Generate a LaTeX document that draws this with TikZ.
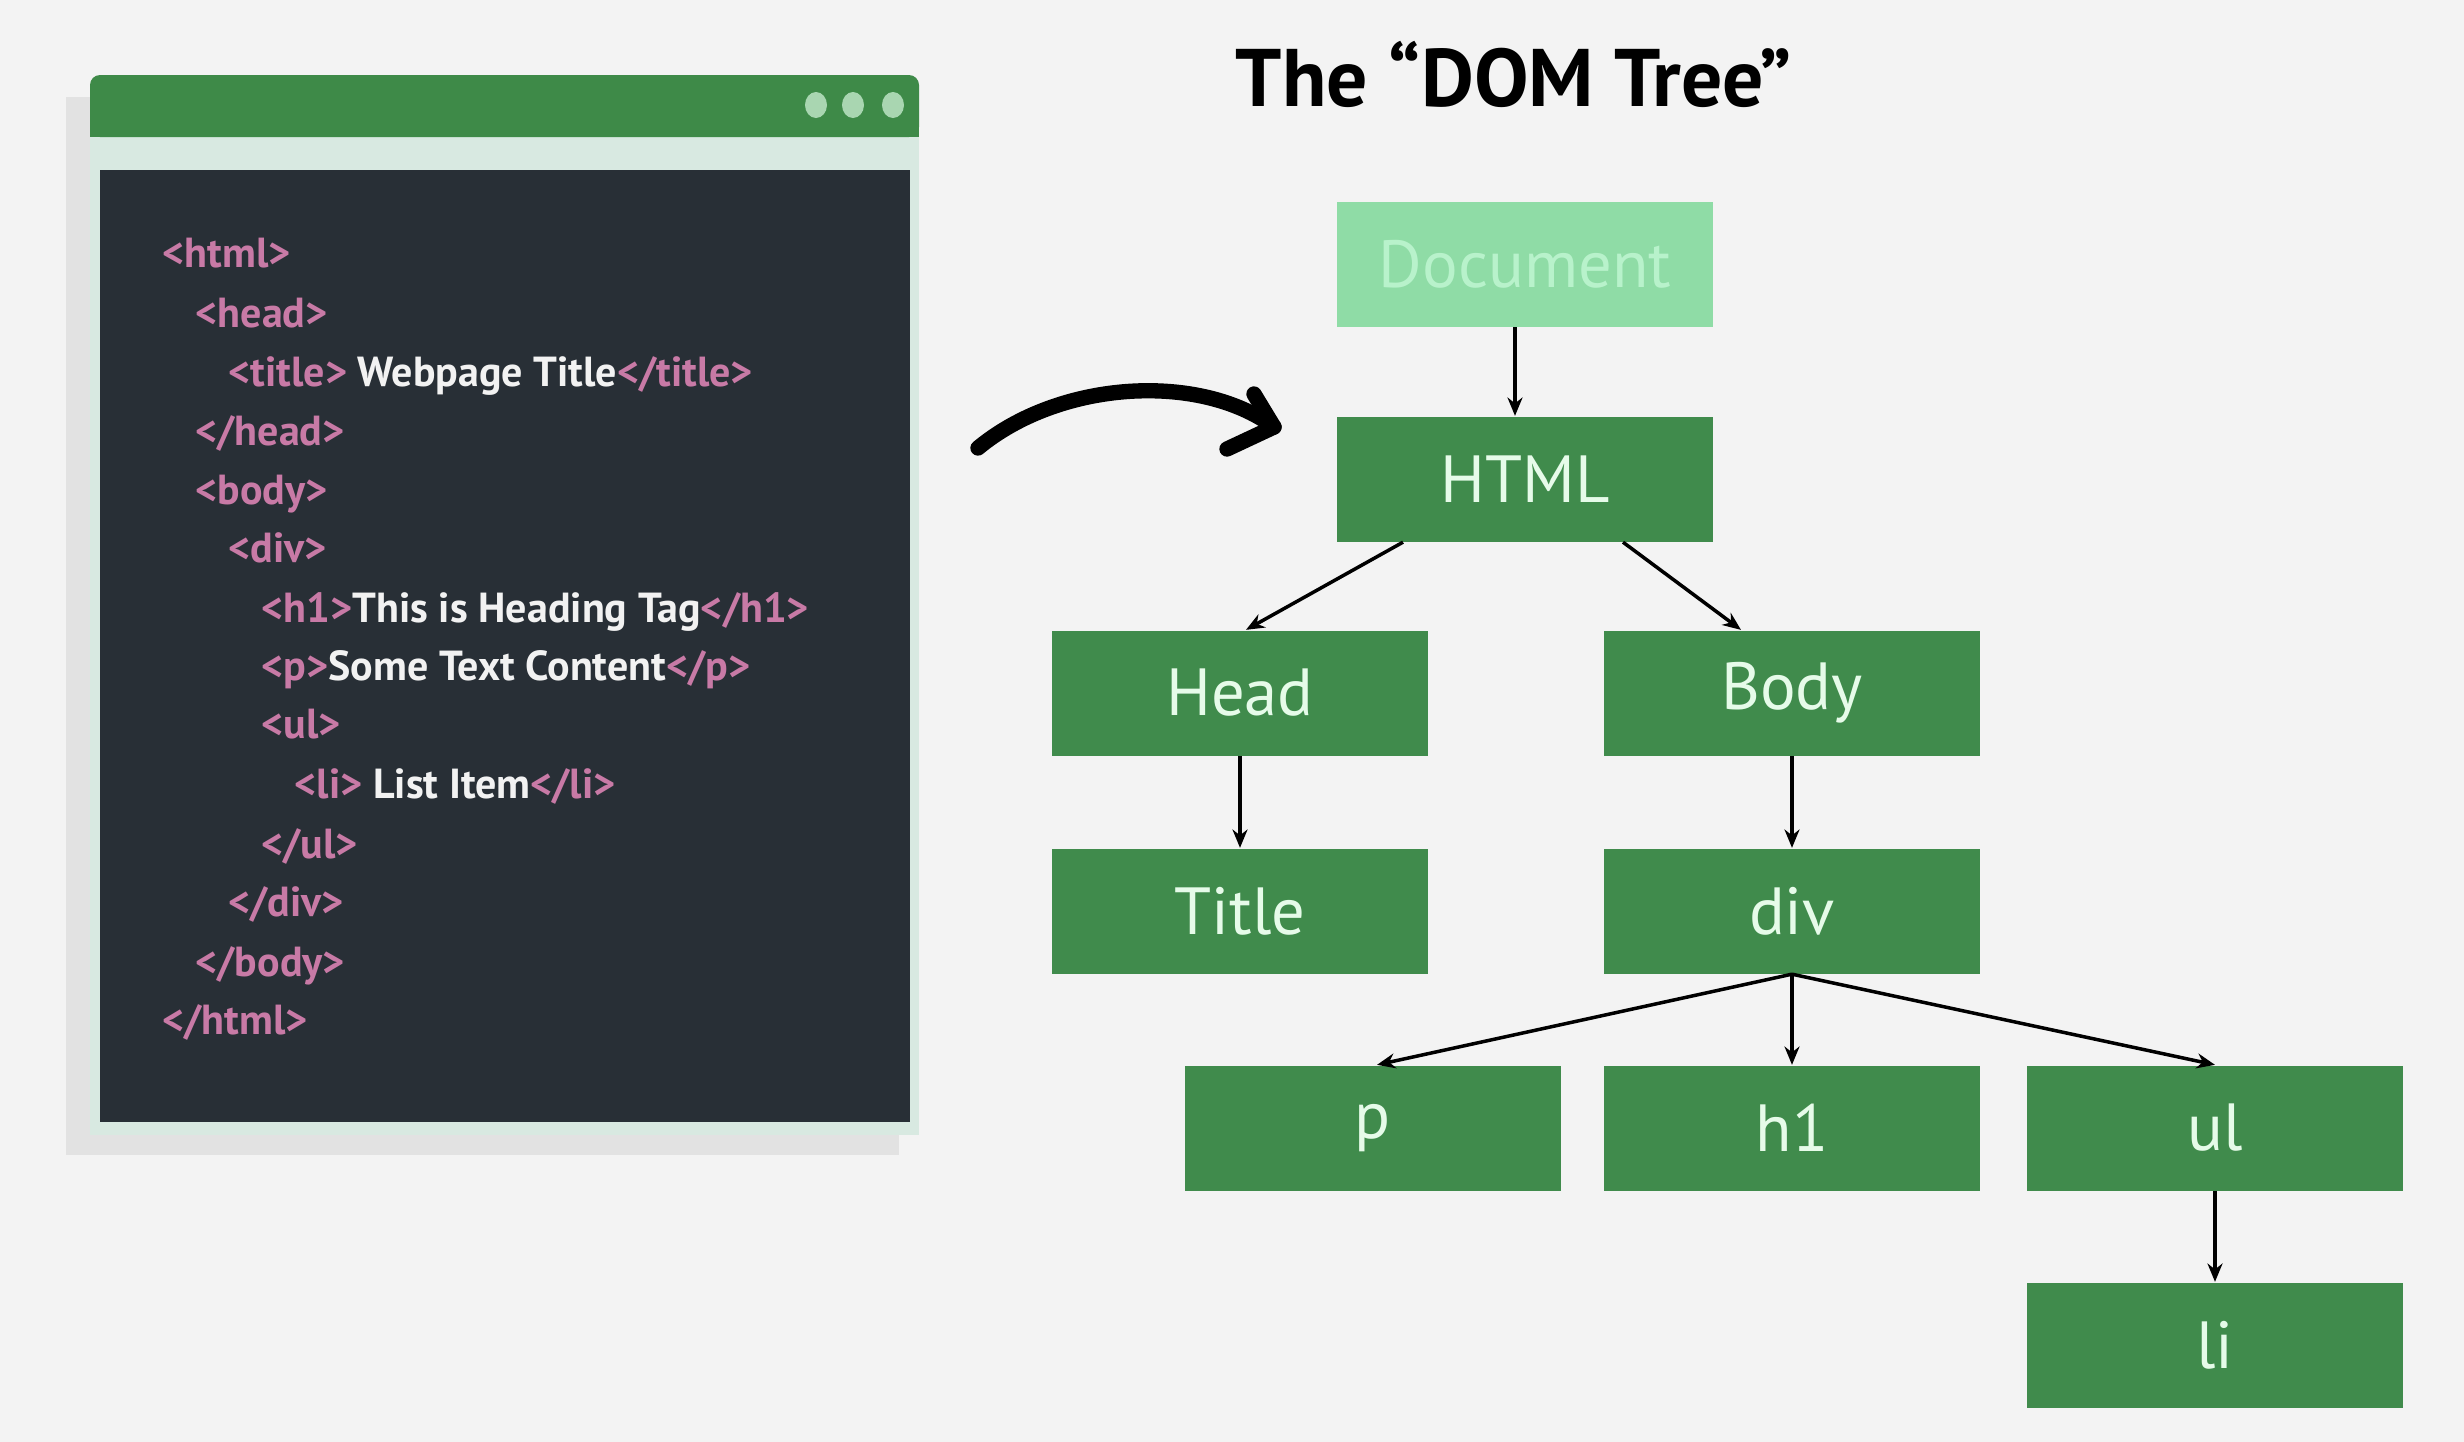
\documentclass[tikz,border=0pt]{standalone}
\usepackage{fontspec}
\setmainfont{PT Sans}
\usetikzlibrary{arrows.meta}
\definecolor{bgc}{RGB}{243,243,243}
\definecolor{shadowc}{RGB}{226,226,226}
\definecolor{mintc}{RGB}{216,233,225}
\definecolor{barc}{RGB}{62,138,72}
\definecolor{darkc}{RGB}{40,47,54}
\definecolor{dotc}{RGB}{169,214,177}
\definecolor{tagc}{RGB}{200,122,166}
\definecolor{txtc}{RGB}{242,242,242}
\definecolor{nodeg}{RGB}{64,139,76}
\definecolor{nodet}{RGB}{230,251,233}
\definecolor{docg}{RGB}{143,220,166}
\definecolor{doct}{RGB}{184,242,203}
\newcommand{\tg}[1]{\textcolor{tagc}{#1}}
\newcommand{\tx}[1]{\textcolor{txtc}{#1}}
\begin{document}
\begin{tikzpicture}[x=0.3pt,y=-0.3pt,
  codeline/.style={anchor=base west,inner sep=0pt,font=\bfseries\fontsize{12.6}{15}\selectfont},
  dombox/.style={fill=nodeg,text=nodet,minimum width=112.8pt,minimum height=37.5pt,inner sep=0pt,font=\fontsize{20}{24}\selectfont},
  docbox/.style={dombox,fill=docg,text=doct},
  arr/.style={draw=black,line width=1.05pt,-{Stealth[length=5.5pt,width=4.5pt]}},
  bigarr/.style={draw=black,line width=4.6pt,line cap=round,line join=round}]
\useasboundingbox (0,0) rectangle (2464,1442);
\fill[bgc] (0,0) rectangle (2464,1442);
% code window
\fill[shadowc] (66,97) rectangle (899,1155);
\fill[mintc] (90,100) rectangle (919,1135);
\fill[barc,rounded corners=3pt] (90,75) rectangle (919,137);
\fill[barc] (90,110) rectangle (919,137);
\fill[darkc] (100,170) rectangle (910,1122);
\fill[dotc] (816,105) ellipse [x radius=3.3pt,y radius=3.9pt];
\fill[dotc] (853,105) ellipse [x radius=3.3pt,y radius=3.9pt];
\fill[dotc] (893,105) ellipse [x radius=3.3pt,y radius=3.9pt];
% code
\node[codeline] (c1) at (162,267) {\tg{<html>}};
\node[codeline] (c2) at (195,327) {\tg{<head>}};
\node[codeline] (c3) at (228,386) {\tg{<title>} \tx{Webpage Title}\tg{</title>}};
\node[codeline] (c4) at (195,445) {\tg{</head>}};
\node[codeline] (c5) at (195,504) {\tg{<body>}};
\node[codeline] (c6) at (228,562) {\tg{<div>}};
\node[codeline] (c7) at (261,622) {\tg{<h1>}\tx{This is Heading Tag}\tg{</h1>}};
\node[codeline] (c8) at (261,680) {\tg{<p>}\tx{Some Text Content}\tg{</p>}};
\node[codeline] (c9) at (261,738) {\tg{<ul>}};
\node[codeline] (c10) at (294,798) {\tg{<li>} \tx{List Item}\tg{</li>}};
\node[codeline] (c11) at (261,858) {\tg{</ul>}};
\node[codeline] (c12) at (228,916) {\tg{</div>}};
\node[codeline] (c13) at (195,976) {\tg{</body>}};
\node[codeline] (c14) at (162,1034) {\tg{</html>}};
% title
\node[font=\bfseries\fontsize{24.5}{29}\selectfont,inner sep=0pt] (title) at (1514,74) {The “DOM Tree”};
% curved arrow
\coordinate (as) at (978,448);
\coordinate (ae) at (1274,427);
\coordinate (au) at (1254,394);
\coordinate (al) at (1227,449);
\draw[bigarr] (as) .. controls (1060,380) and (1200,372) .. (ae);
\draw[bigarr] (au) -- (ae) -- (al);
% tree
\node[docbox] (doc) at (1525,264) {Document};
\node[dombox] (html) at (1525,479) {HTML};
\node[dombox] (head) at (1240,693) {Head};
\node[dombox] (body) at (1792,693) {Body};
\node[dombox] (ttl) at (1240,911) {Title};
\node[dombox] (div) at (1792,911) {div};
\node[dombox] (p) at (1373,1128) {p};
\node[dombox] (h1) at (1792,1128) {h1};
\node[dombox] (ul) at (2215,1128) {ul};
\node[dombox] (li) at (2215,1345) {li};
\draw[arr] ([xshift=-3pt]doc.south) -- ([xshift=-3pt]html.north);
\draw[arr] ([xshift=-36.6pt]html.south) -- ([xshift=1.8pt]head.north);
\draw[arr] ([xshift=29.4pt]html.south) -- ([xshift=-15.3pt]body.north);
\draw[arr] (head.south) -- (ttl.north);
\draw[arr] (body.south) -- (div.north);
\draw[arr] (div.south) -- ([xshift=1.2pt]p.north);
\draw[arr] (div.south) -- (h1.north);
\draw[arr] (div.south) -- (ul.north);
\draw[arr] (ul.south) -- (li.north);
\end{tikzpicture}
\end{document}
